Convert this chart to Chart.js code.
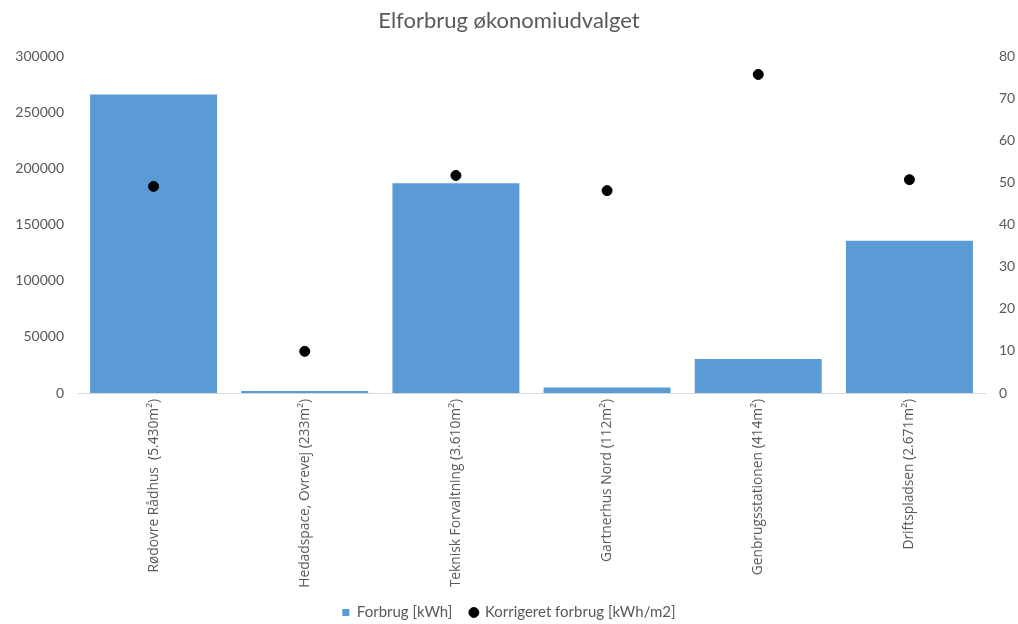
<!DOCTYPE html>
<html>
<head>
<meta charset="utf-8">
<script src="https://cdn.jsdelivr.net/npm/chart.js@4.4.0/dist/chart.umd.min.js"></script>
<style>
  html, body { margin: 0; padding: 0; background: #fff; }
  #wrap { width: 1018px; height: 624px; }
</style>
</head>
<body>
<div id="wrap"><canvas id="elChart"></canvas></div>
<script>
// data
var categories = [
  'Rødovre Rådhus  (5.430m²)',
  'Hedadspace, Ovrevej (233m²)',
  'Teknisk Forvaltning (3.610m²)',
  'Gartnerhus Nord (112m²)',
  'Genbrugsstationen (414m²)',
  'Driftspladsen (2.671m²)'
];
var forbrug = [266000, 1800, 187000, 4800, 30300, 135600];
var korrigeret = [49.1, 9.9, 51.7, 48.1, 75.7, 50.7];

var grey = '#595959';
var fontName = 'Lato, "Open Sans", sans-serif';

var ctx = document.getElementById('elChart').getContext('2d');
var chart = new Chart(ctx, {
  data: {
    labels: categories,
    datasets: [{
      type: 'line',
      label: 'Korrigeret forbrug [kWh/m2]',
      data: korrigeret,
      yAxisID: 'y1',
      showLine: false,
      pointStyle: 'circle',
      pointRadius: 5,
      pointBackgroundColor: '#000',
      pointBorderColor: '#000',
      backgroundColor: '#000',
      borderColor: '#000',
      order: 0
    }, {
      type: 'bar',
      label: 'Forbrug [kWh]',
      data: forbrug,
      yAxisID: 'y',
      backgroundColor: '#5B9BD5',
      borderWidth: 0,
      barPercentage: 0.84,
      categoryPercentage: 1.0,
      pointStyle: 'rect',
      order: 1
    }]
  },
  options: {
    responsive: true,
    maintainAspectRatio: false,
    animation: false,
    layout: { padding: { left: 0, right: 0, top: 8, bottom: -6 } },
    plugins: {
      title: {
        display: true,
        text: 'Elforbrug økonomiudvalget',
        color: grey,
        font: { family: fontName, size: 22, weight: 'normal' },
        padding: { top: 0, bottom: 22 }
      },
      legend: {
        position: 'bottom',
        reverse: true,
        labels: {
          usePointStyle: true,
          boxWidth: 7,
          boxHeight: 7,
          color: grey,
          padding: 18,
          font: { family: fontName, size: 15 }
        }
      },
      tooltip: { enabled: false }
    },
    scales: {
      x: {
        grid: { display: false, drawTicks: false },
        border: { color: '#d9d9d9' },
        ticks: {
          color: grey,
          maxRotation: 90,
          minRotation: 90,
          padding: 6,
          font: { family: '"Open Sans", sans-serif', size: 13.8 }
        },
        afterFit: function (axis) { axis.height = 194; }
      },
      y: {
        position: 'left',
        min: 0,
        max: 300000,
        grid: { display: false, drawTicks: false },
        border: { display: false },
        ticks: {
          stepSize: 50000,
          color: grey,
          padding: 14,
          font: { family: fontName, size: 14 },
          callback: function (v) { return String(v); }
        },
        afterFit: function (axis) { axis.width = 78; }
      },
      y1: {
        position: 'right',
        min: 0,
        max: 80,
        grid: { display: false, drawTicks: false },
        border: { display: false },
        ticks: {
          stepSize: 10,
          color: grey,
          padding: 14,
          font: { family: fontName, size: 14 }
        },
        afterFit: function (axis) { axis.width = 33; }
      }
    }
  }
});
</script>
</body>
</html>
